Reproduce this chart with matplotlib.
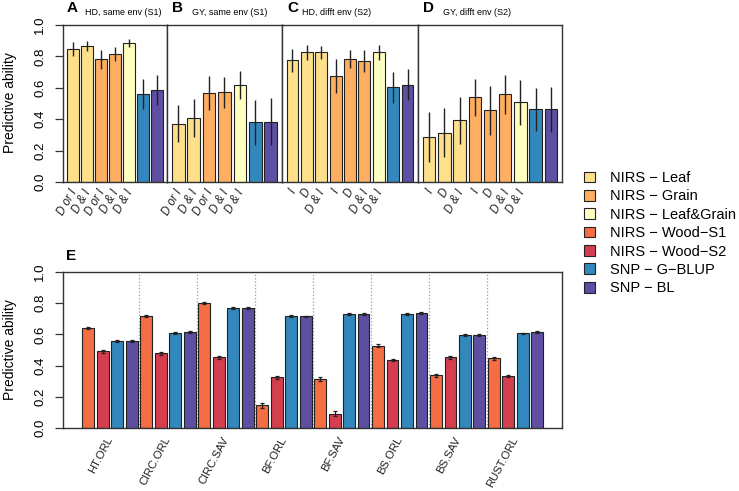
import matplotlib
matplotlib.use('Agg')
import matplotlib.pyplot as plt
import matplotlib.transforms as mtransforms
from matplotlib.patches import Patch

plt.rcParams['font.family'] = ['Liberation Sans', 'DejaVu Sans']

W, H = 739, 491

# Spectral palette, one colour per predictor
colours = {'Leaf': '#FEE08B', 'Grain': '#FDAE61', 'LG': '#FFFFBF',
           'S1': '#F46D43', 'S2': '#D53E4F', 'GBLUP': '#3288BD', 'BL': '#5E4FA2'}
legend_keys = ['Leaf', 'Grain', 'LG', 'S1', 'S2', 'GBLUP', 'BL']
legend_labels = ['NIRS \u2212 Leaf', 'NIRS \u2212 Grain', 'NIRS \u2212 Leaf&Grain',
                 'NIRS \u2212 Wood\u2212S1', 'NIRS \u2212 Wood\u2212S2',
                 'SNP \u2212 G\u2212BLUP', 'SNP \u2212 BL']

# top row (panels A-D)
panel_letters = ['A', 'B', 'C', 'D']
panel_titles = ['HD, same env (S1)', 'GY, same env (S1)',
                'HD, difft env (S2)', 'GY, difft env (S2)']
groups_AB = ['Leaf', 'Leaf', 'Grain', 'Grain', 'LG', 'GBLUP', 'BL']
groups_CD = ['Leaf', 'Leaf', 'Leaf', 'Grain', 'Grain', 'Grain', 'LG', 'GBLUP', 'BL']
ticks_AB = ['D or I', 'D & I', 'D or I', 'D & I', 'D & I', '', '']
ticks_CD = ['I', 'D', 'D & I', 'I', 'D', 'D & I', 'D & I', '', '']

vals_A = [0.847, 0.868, 0.781, 0.815, 0.883, 0.560, 0.585]
err_A = [0.043, 0.031, 0.062, 0.045, 0.025, 0.096, 0.094]
vals_B = [0.372, 0.407, 0.568, 0.571, 0.619, 0.379, 0.385]
err_B = [0.120, 0.119, 0.108, 0.098, 0.090, 0.144, 0.149]
vals_C = [0.775, 0.826, 0.826, 0.675, 0.785, 0.772, 0.826, 0.602, 0.621]
err_C = [0.075, 0.046, 0.043, 0.107, 0.058, 0.071, 0.049, 0.100, 0.099]
vals_D = [0.287, 0.315, 0.392, 0.539, 0.456, 0.558, 0.507, 0.462, 0.462]
err_D = [0.157, 0.154, 0.148, 0.117, 0.154, 0.122, 0.141, 0.136, 0.144]

# bottom panel (E)
E_traits = ['HT.ORL', 'CIRC.ORL', 'CIRC.SAV', 'BF.ORL', 'BF.SAV', 'BS.ORL', 'BS.SAV', 'RUST.ORL']
E_S1 = [0.640, 0.719, 0.800, 0.145, 0.314, 0.527, 0.337, 0.448]
E_S2 = [0.491, 0.480, 0.454, 0.326, 0.092, 0.437, 0.452, 0.333]
E_GBLUP = [0.555, 0.608, 0.768, 0.719, 0.730, 0.730, 0.595, 0.606]
E_BL = [0.555, 0.614, 0.768, 0.715, 0.730, 0.736, 0.595, 0.614]
E_err_S1 = [0.008, 0.008, 0.006, 0.015, 0.012, 0.010, 0.010, 0.010]
E_err_S2 = [0.008, 0.010, 0.010, 0.010, 0.015, 0.008, 0.010, 0.008]
E_err_GBLUP = [0.006, 0.006, 0.006, 0.006, 0.006, 0.006, 0.006, 0.006]
E_err_BL = [0.006, 0.006, 0.006, 0.006, 0.006, 0.006, 0.006, 0.006]

EDGE = '#222222'
SPINE = '#333333'


def fx(px):
    return px / W


def fy(py):
    return 1 - py / H


def style_axes(ax, show_y):
    for s in ax.spines.values():
        s.set_color(SPINE)
        s.set_linewidth(1.0)
    ax.set_ylim(0, 1.0)
    ax.set_xticks([])
    if show_y:
        ax.set_yticks([0, 0.2, 0.4, 0.6, 0.8, 1.0])
        ax.set_yticklabels(['0.0', '0.2', '0.4', '0.6', '0.8', '1.0'])
        ax.tick_params(axis='y', direction='out', length=6, width=0.9, color=SPINE,
                       labelsize=9.5, labelrotation=90, pad=6)
        for lab in ax.get_yticklabels():
            lab.set_verticalalignment('center')
    else:
        ax.set_yticks([])


fig = plt.figure(figsize=(W / 100, H / 100), dpi=100)

edges = [63, 167, 282, 418, 562]
top_vals = [vals_A, vals_B, vals_C, vals_D]
top_errs = [err_A, err_B, err_C, err_D]
top_groups = [groups_AB, groups_AB, groups_CD, groups_CD]
top_ticks = [ticks_AB, ticks_AB, ticks_CD, ticks_CD]
letter_x = [67, 172, 287, 423]
title_x = [85, 192, 302, 443]

for k in range(4):
    x0, x1 = edges[k], edges[k + 1]
    ax = fig.add_axes([fx(x0), fy(182), (x1 - x0) / W, (182 - 25) / H])
    n = len(top_vals[k])
    xs = list(range(n))
    ax.bar(xs, top_vals[k], width=0.82, color=[colours[g] for g in top_groups[k]],
           edgecolor=EDGE, linewidth=0.8, zorder=2)
    ax.errorbar(xs, top_vals[k], yerr=top_errs[k], fmt='none', ecolor=EDGE,
                elinewidth=1.0, capsize=0, zorder=3)
    ax.set_xlim(-0.5 - 0.23, n - 0.5 + 0.23)
    style_axes(ax, k == 0)
    trans = mtransforms.blended_transform_factory(ax.transData, ax.transAxes)
    for i, t in enumerate(top_ticks[k]):
        if t:
            ax.text(i + 0.1, -0.05, t, transform=trans, rotation=60, ha='right', va='center',
                    rotation_mode='anchor', style='italic', fontsize=8.3, color='#222222')
    fig.text(fx(letter_x[k]), fy(12), panel_letters[k], fontsize=11, fontweight='bold',
             ha='left', va='baseline')
    fig.text(fx(title_x[k]), fy(15), panel_titles[k], fontsize=6.5, ha='left', va='baseline')

fig.text(fx(10), fy(103), 'Predictive ability', rotation=90, ha='center', va='center', fontsize=10)

# panel E
axE = fig.add_axes([fx(63), fy(428), (562 - 63) / W, (428 - 272) / H])
series = [('S1', E_S1, E_err_S1), ('S2', E_S2, E_err_S2),
          ('GBLUP', E_GBLUP, E_err_GBLUP), ('BL', E_BL, E_err_BL)]
for j, (key, vals, errs) in enumerate(series):
    xs = [4 * g + j for g in range(len(E_traits))]
    axE.bar(xs, vals, width=0.82, color=colours[key], edgecolor=EDGE, linewidth=0.8, zorder=2)
    axE.errorbar(xs, vals, yerr=errs, fmt='none', ecolor=EDGE, elinewidth=0.9,
                 capsize=1.5, capthick=0.9, zorder=3)
for g in range(1, len(E_traits)):
    axE.axvline(4 * g - 0.5, color='#999999', linestyle=':', linewidth=0.9, zorder=1)
axE.set_xlim(-1.75, 4 * len(E_traits) - 0.5 + 1.2)
style_axes(axE, True)
transE = mtransforms.blended_transform_factory(axE.transData, axE.transAxes)
for g, t in enumerate(E_traits):
    axE.text(4 * g + 1.5, -0.06, t, transform=transE, rotation=62, ha='right', va='center',
             rotation_mode='anchor', fontsize=8.1, color='#222222')
fig.text(fx(66), fy(260), 'E', fontsize=11, fontweight='bold', ha='left', va='baseline')
fig.text(fx(10), fy(350), 'Predictive ability', rotation=90, ha='center', va='center', fontsize=10)

handles = [Patch(facecolor=colours[k], edgecolor=EDGE, linewidth=0.8) for k in legend_keys]
fig.legend(handles, legend_labels, loc='upper left', bbox_to_anchor=(fx(584), fy(171)),
           frameon=False, fontsize=10.5, handlelength=0.75, handleheight=0.75,
           handletextpad=1.0, labelspacing=0.3, borderpad=0, borderaxespad=0)

fig.savefig('out.png', dpi=100)
